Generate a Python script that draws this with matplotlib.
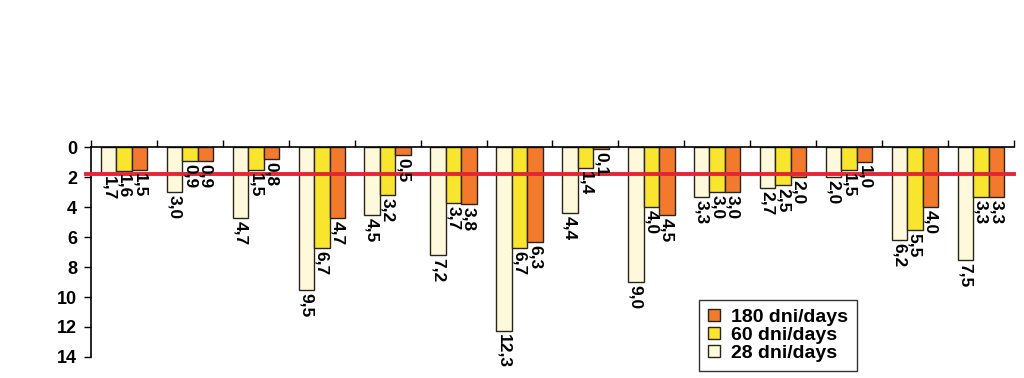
import numpy as np
import matplotlib
matplotlib.use("Agg")
import matplotlib.pyplot as plt

plt.rcParams['font.family'] = ['Liberation Sans', 'DejaVu Sans']
plt.rcParams['font.weight'] = 'bold'

series_names = ['28 dni/days', '60 dni/days', '180 dni/days']
d28 = [1.7, 3.0, 4.7, 9.5, 4.5, 7.2, 12.3, 4.4, 9.0, 3.3, 2.7, 2.0, 6.2, 7.5]
d60 = [1.6, 0.9, 1.5, 6.7, 3.2, 3.7, 6.7, 1.4, 4.0, 3.0, 2.5, 1.5, 5.5, 3.3]
d180 = [1.5, 0.9, 0.8, 4.7, 0.5, 3.8, 6.3, 0.1, 4.5, 3.0, 2.0, 1.0, 4.0, 3.3]
threshold = 1.8

colors = ['#FFF9DC', '#F9E52E', '#F37A2C']

fig = plt.figure(figsize=(10.24, 3.78), dpi=100)
ax = fig.add_axes([0.089, 0.056, 0.901, 0.554])

x = np.arange(len(d28))
w = 0.235
bars = []
for i, (vals, c) in enumerate(zip([d28, d60, d180], colors)):
    b = ax.bar(x + (i - 1) * w, vals, w, color=c, edgecolor='#2a2418',
               linewidth=1.0, label=series_names[i], zorder=2)
    bars.append(b)
    for xi, v in zip(x + (i - 1) * w, vals):
        ax.text(xi, v + 0.2, f'{v:.1f}'.replace('.', ','), rotation=270,
                ha='center', va='top', fontsize=12.5, fontweight='bold', zorder=4)

ax.axhline(threshold, color='#E42535', linewidth=2.8, zorder=3,
           xmin=-0.006, xmax=1.0, clip_on=False)

ax.set_xlim(-0.5, len(d28) - 0.5)
ax.set_ylim(14, 0)
ax.set_yticks(np.arange(0, 15, 2))
ax.set_xticks(np.arange(-0.5, len(d28)))
ax.set_xticklabels([])
ax.xaxis.tick_top()
ax.tick_params(axis='x', direction='out', length=5, width=1, top=True, bottom=False)
ax.tick_params(axis='y', direction='out', length=5, width=1, labelsize=13, pad=5)
for lab in ax.get_yticklabels():
    lab.set_fontweight('bold')

for s in ['right', 'bottom']:
    ax.spines[s].set_visible(False)
ax.spines['left'].set_linewidth(1.2)
ax.spines['top'].set_linewidth(1.2)

handles = [bars[2], bars[1], bars[0]]
leg = ax.legend(handles, [series_names[2], series_names[1], series_names[0]],
                loc='upper left', bbox_to_anchor=(0.659, 0.27), frameon=True,
                fancybox=False, edgecolor='black',
                prop={'weight': 'bold', 'size': 14},
                handlelength=0.6, handleheight=0.6, handletextpad=0.6,
                labelspacing=0.05, borderpad=0.45, borderaxespad=0)
leg.get_frame().set_linewidth(1.0)

fig.savefig('out.png', dpi=100)
